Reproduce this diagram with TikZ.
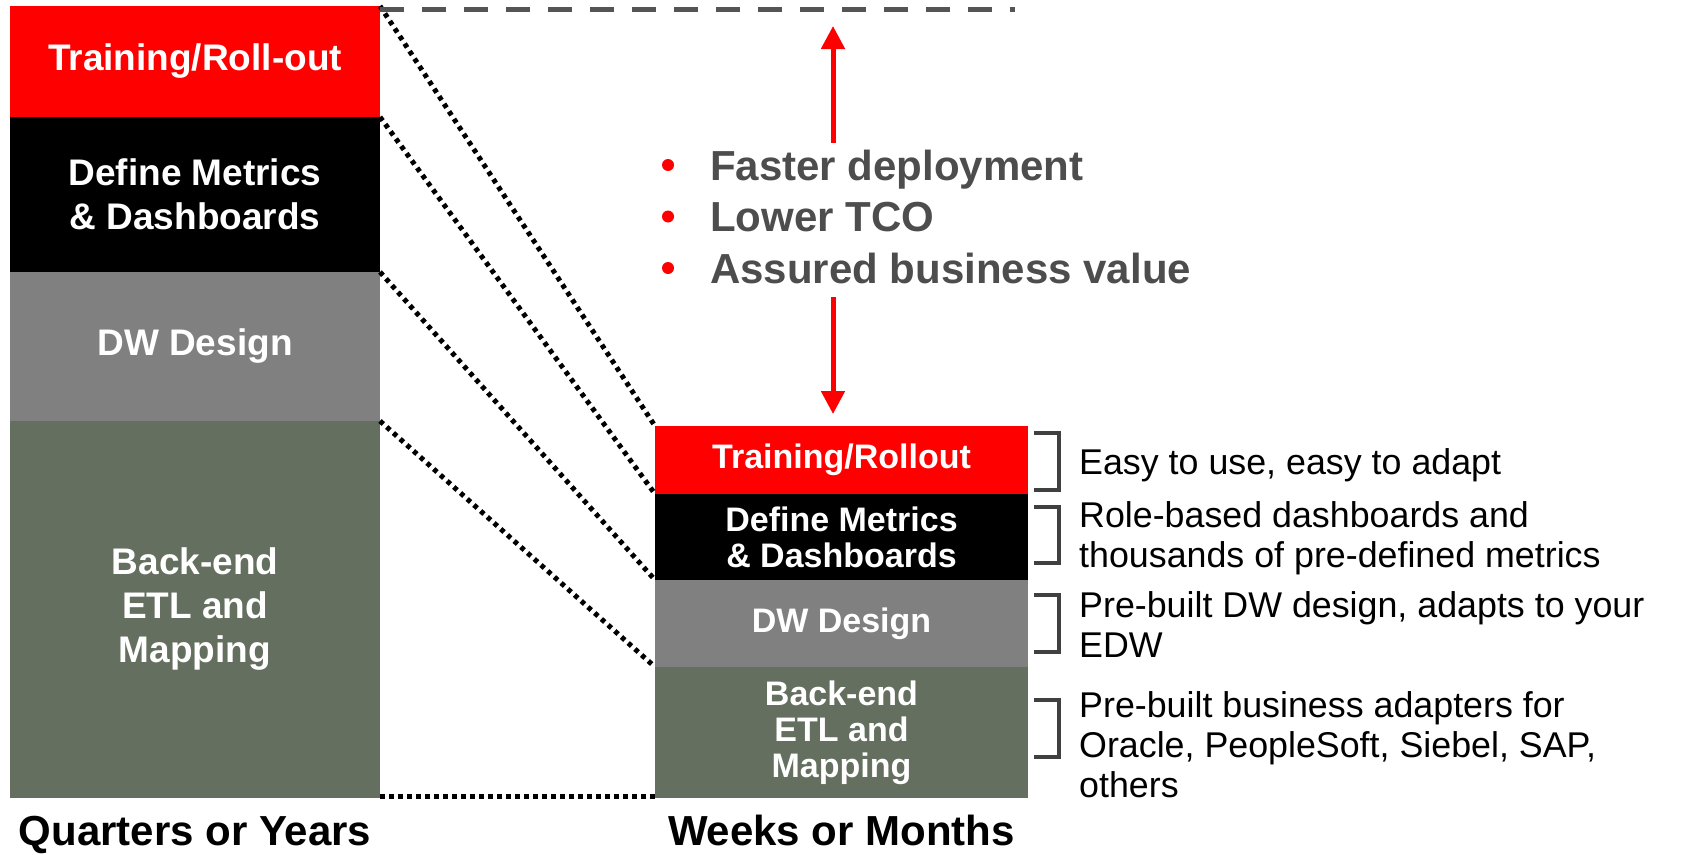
\documentclass[tikz,border=0pt]{standalone}
\usepackage{fontspec}
\setmainfont{Liberation Sans}
\usetikzlibrary{arrows.meta}
\definecolor{phasegray}{HTML}{808080}
\definecolor{phasegreen}{HTML}{646F60}
\definecolor{benefitgray}{HTML}{4D4D4D}
\definecolor{linegray}{HTML}{555555}
\definecolor{bracketgray}{HTML}{404040}
\tikzset{
	phase/.style={inner sep=0pt, outer sep=0pt, anchor=north west, text=white, align=center},
	bigphase/.style={phase, minimum width=370pt, font=\fontsize{37}{44}\selectfont\bfseries},
	smallphase/.style={phase, minimum width=373pt, font=\fontsize{34}{36}\selectfont\bfseries},
	dotline/.style={line width=5pt, dash pattern=on 4.5pt off 4.5pt},
	dashline/.style={line width=5pt, linegray, dash pattern=on 24pt off 18pt},
	growth/.style={line width=5pt, red, -{Triangle[width=23pt,length=23pt]}},
	benefit/.style={anchor=base west, inner sep=0pt, text=benefitgray, font=\fontsize{42}{50}\selectfont\bfseries},
	note/.style={anchor=base west, inner sep=0pt, align=left, font=\fontsize{35.8}{40}\selectfont},
	bracket/.style={line width=3.5pt, bracketgray},
	timescale/.style={anchor=base, inner sep=0pt, font=\fontsize{42}{50}\selectfont\bfseries}
}
\begin{document}
\begin{tikzpicture}[x=1pt,y=-1pt]
	\useasboundingbox (0,0) rectangle (1683,854);
	\node[bigphase, fill=red, minimum height=111pt] (ltrain) at (10,6) {Training/Roll-out};
	\node[bigphase, fill=black, minimum height=155pt] (ldefine) at (ltrain.south west) {Define Metrics\\\& Dashboards};
	\node[bigphase, fill=phasegray, minimum height=149pt] (ldw) at (ldefine.south west) {DW Design};
	\node[bigphase, fill=phasegreen, minimum height=377pt] (letl) at (ldw.south west) {Back-end\\ETL and\\Mapping};
	\node[smallphase, fill=red, minimum height=68pt] (rtrain) at (655,426) {Training/Rollout};
	\node[smallphase, fill=black, minimum height=86pt] (rdefine) at (rtrain.south west) {Define Metrics\\\& Dashboards};
	\node[smallphase, fill=phasegray, minimum height=87pt] (rdw) at (rdefine.south west) {DW Design};
	\node[smallphase, fill=phasegreen, minimum height=131pt] (retl) at (rdw.south west) {Back-end\\ETL and\\Mapping};
	\foreach \a/\b in {ltrain/rtrain, ldefine/rdefine, ldw/rdw, letl/retl}
		\draw[dotline] (\a.north east) -- (\b.north west);
	\draw[dotline] ([yshift=2pt]letl.south east) -- ([yshift=2pt]retl.south west);
	\coordinate (topend) at (1015,9.5);
	\draw[dashline] (ltrain.north east |- topend) -- (topend);
	\coordinate (uptail) at (833,143);
	\coordinate (uptip) at (833,26);
	\coordinate (downtail) at (833,297);
	\coordinate (downtip) at (833,414);
	\draw[growth] (uptail) -- (uptip);
	\draw[growth] (downtail) -- (downtip);
	\foreach \y/\t [count=\i] in {180/Faster deployment, 231.5/Lower TCO, 283/Assured business value} {
		\node[benefit] (b\i) at (710,\y) {\t};
		\fill[red] (668,\y-15) circle (6pt);
	}
	\foreach \t/\b in {433/490, 507/563, 595/652, 700/757}
		\draw[bracket] (1034,\t) -- (1059,\t) -- (1059,\b) -- (1034,\b);
	\node[note] (n1) at (1079,474) {Easy to use, easy to adapt};
	\node[note] (n2) at (1079,567) {Role-based dashboards and\\thousands of pre-defined metrics};
	\node[note] (n3) at (1079,657) {Pre-built DW design, adapts to your\\EDW};
	\node[note] (n4) at (1079,797) {Pre-built business adapters for\\Oracle, PeopleSoft, Siebel, SAP,\\others};
	\node[timescale] (quarters) at (letl.south |- 0,845) {Quarters or Years};
	\node[timescale] (weeks) at (retl.south |- 0,845) {Weeks or Months};
\end{tikzpicture}
\end{document}
